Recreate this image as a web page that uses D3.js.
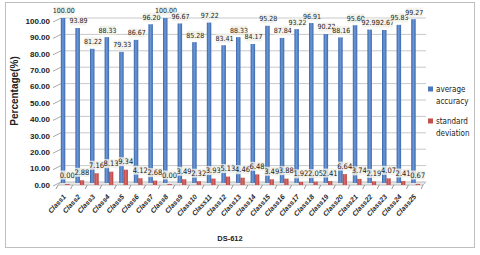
<!DOCTYPE html>
<html>
<head>
<meta charset="utf-8">
<script src="https://d3js.org/d3.v7.min.js"></script>
<style>
  body { margin: 0; background: #fff; }
  text { font-family: "Liberation Sans", Arial, sans-serif; fill: #222; }
  .narrow { font-family: "Liberation Sans Narrow", "DejaVu Sans Condensed", sans-serif; }
</style>
</head>
<body>
<div id="chart"></div>
<script>
// data
let classes = ["Class1","Class2","Class3","Class4","Class5","Class6","Class7","Class8","Class9","Class10",
               "Class11","Class12","Class13","Class14","Class15","Class16","Class17","Class18","Class19","Class20",
               "Class21","Class22","Class23","Class24","Class25"];
let avgAccuracy = [100.00, 93.89, 81.22, 88.33, 79.33, 86.67, 96.20, 100.00, 96.67, 85.28,
                   97.22, 83.41, 88.33, 84.17, 95.28, 87.84, 93.22, 96.91, 90.22, 88.16,
                   95.60, 92.92, 92.67, 95.83, 99.27];
let stdDev = [0.00, 2.88, 7.16, 8.13, 9.34, 4.12, 2.68, 0.00, 3.49, 2.32,
              3.93, 5.13, 4.46, 6.48, 3.49, 3.88, 1.92, 2.05, 2.41, 6.64,
              3.74, 2.19, 4.07, 2.41, 0.67];
let yTicks = [0, 10, 20, 30, 40, 50, 60, 70, 80, 90, 100];
let seriesNames = [["average", "accuracy"], ["standard", "deviation"]];

let width = 480, height = 255;
let wallDx = 3, wallDy = -3;   // back wall offset (fake 3d)

let svg = d3.select("#chart").append("svg")
    .attr("width", width)
    .attr("height", height);

let defs = svg.append("defs");
let gBlue = defs.append("linearGradient").attr("id", "blueGrad");
gBlue.append("stop").attr("offset", "0%").attr("stop-color", "#3863a6");
gBlue.append("stop").attr("offset", "45%").attr("stop-color", "#6c98d8");
gBlue.append("stop").attr("offset", "100%").attr("stop-color", "#3c69ad");
let gRed = defs.append("linearGradient").attr("id", "redGrad");
gRed.append("stop").attr("offset", "0%").attr("stop-color", "#b23c39");
gRed.append("stop").attr("offset", "45%").attr("stop-color", "#dc6b68");
gRed.append("stop").attr("offset", "100%").attr("stop-color", "#b8403d");

// outer border
svg.append("rect")
    .attr("x", 5.5).attr("y", 2.5)
    .attr("width", 469).attr("height", 245)
    .attr("fill", "none").attr("stroke", "#bfbfbf");

let x = d3.scaleBand().domain(classes).range([58, 423]);
let y = d3.scaleLinear().domain([0, 100]).range([185, 21]);
let bw = x.bandwidth();

// gridlines on the back wall
svg.append("g").selectAll("line")
    .data(yTicks.slice(1))
    .enter().append("line")
    .attr("x1", 58 + wallDx).attr("x2", 423 + wallDx)
    .attr("y1", d => y(d) + wallDy).attr("y2", d => y(d) + wallDy)
    .attr("stroke", "#c8c8c8").attr("stroke-width", 1);

// slanted ticks on the y axis
svg.append("g").selectAll("line")
    .data(yTicks)
    .enter().append("line")
    .attr("x1", 53).attr("y1", d => y(d) + 1)
    .attr("x2", 58 + wallDx).attr("y2", d => y(d) + wallDy)
    .attr("stroke", "#aaa");

// y axis labels
svg.append("g").selectAll("text")
    .data(yTicks)
    .enter().append("text")
    .attr("x", 50).attr("y", d => y(d))
    .attr("dy", "0.35em")
    .attr("text-anchor", "end")
    .style("font-size", "8px").style("font-weight", "bold")
    .text(d => d.toFixed(2));

svg.append("text")
    .attr("transform", "translate(18,91) rotate(-90)")
    .attr("text-anchor", "middle")
    .style("font-size", "10px").style("font-weight", "bold")
    .text("Percentage(%)");

// floor
svg.append("polygon")
    .attr("points", [[58, 185], [423, 185], [423 + wallDx, 185 + wallDy], [58 + wallDx, 185 + wallDy]].join(" "))
    .attr("fill", "#e8e8e8").attr("stroke", "#bdbdbd");

// tick marks under the floor
svg.append("g").selectAll("line")
    .data(classes.concat(["end"]))
    .enter().append("line")
    .attr("x1", (d, i) => 58 + i * bw).attr("y1", 185)
    .attr("x2", (d, i) => 56 + i * bw).attr("y2", 189)
    .attr("stroke", "#999");

// blue bars (average accuracy), standing back on the wall
svg.append("g").selectAll("rect")
    .data(avgAccuracy)
    .enter().append("rect")
    .attr("x", (d, i) => x(classes[i]) + bw / 2 - 4.5)
    .attr("y", d => y(d) + wallDy)
    .attr("width", 4.5)
    .attr("height", d => y(0) - 2 - (y(d) + wallDy))
    .attr("fill", "url(#blueGrad)");

// red bars (standard deviation)
svg.append("g").selectAll("rect")
    .data(stdDev)
    .enter().append("rect")
    .attr("x", (d, i) => x(classes[i]) + bw / 2)
    .attr("y", d => Math.min(y(d), y(0) - 1))
    .attr("width", 4.2)
    .attr("height", d => Math.max(y(0) - y(d), 1))
    .attr("fill", "url(#redGrad)");

// data labels with light boxes
function addLabels(values, cx, cy, size) {
    let g = svg.append("g");
    let lab = g.selectAll("g")
        .data(values)
        .enter().append("g")
        .attr("transform", (d, i) => `translate(${cx(d, i)},${cy(d, i)})`);
    lab.append("rect")
        .attr("x", d => -(d.toFixed(2).length * size * 0.22) - 0.5)
        .attr("y", -4.5)
        .attr("width", d => d.toFixed(2).length * size * 0.44 + 1)
        .attr("height", 9)
        .attr("fill", "#f1f0e8").attr("opacity", 0.85);
    lab.append("text")
        .attr("class", "narrow")
        .attr("text-anchor", "middle")
        .attr("dy", "0.35em")
        .style("font-size", size + "px")
        .text(d => d.toFixed(2));
}
addLabels(avgAccuracy, (d, i) => x(classes[i]) + bw / 2 - 1.5, d => y(d) + wallDy - 7, 7);
addLabels(stdDev, (d, i) => x(classes[i]) + bw / 2 + 2, d => Math.min(y(d), y(0) - 2) - 8, 7.5);

// category labels
svg.append("g").selectAll("text")
    .data(classes)
    .enter().append("text")
    .attr("transform", d => `translate(${x(d) + bw / 2 + 1},${197}) rotate(-48)`)
    .attr("text-anchor", "end")
    .style("font-size", "7px").style("font-weight", "bold").style("font-style", "italic")
    .text(d => d);

svg.append("text")
    .attr("x", 230).attr("y", 241)
    .attr("text-anchor", "middle")
    .style("font-size", "7.5px").style("font-weight", "bold")
    .text("DS-612");

// legend
let legend = svg.append("g").selectAll("g")
    .data(seriesNames)
    .enter().append("g")
    .attr("transform", (d, i) => `translate(428,${89 + i * 32})`);
legend.append("rect")
    .attr("x", 0).attr("y", -2.5).attr("width", 5).attr("height", 5)
    .attr("fill", (d, i) => i === 0 ? "#4a78bd" : "#c4504d");
legend.append("text")
    .attr("class", "narrow")
    .attr("x", 8).attr("dy", "0.35em")
    .style("font-size", "8px")
    .text(d => d[0]);
legend.append("text")
    .attr("class", "narrow")
    .attr("x", 8).attr("y", 12).attr("dy", "0.35em")
    .style("font-size", "8px")
    .text(d => d[1]);
</script>
</body>
</html>
